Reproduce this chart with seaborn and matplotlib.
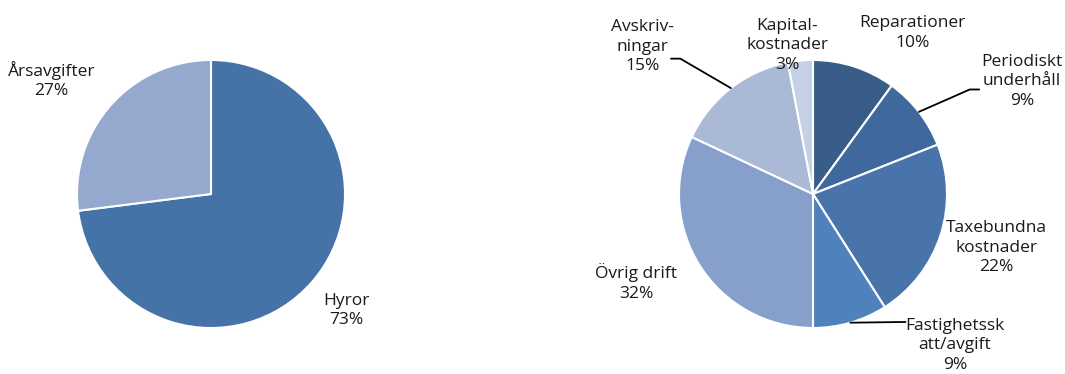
import numpy as np
import matplotlib
matplotlib.use("Agg")
import matplotlib.pyplot as plt
import seaborn as sns

sns.set_style("white")
plt.rcParams['font.family'] = ['Open Sans', 'DejaVu Sans']

# ---- data ----
left_labels = ["Hyror", "Årsavgifter"]
left_values = [73, 27]
left_colors = ["#4572A7", "#95A9CF"]

right_labels = ["Reparationer", "Periodiskt\nunderhåll", "Taxebundna\nkostnader",
                "Fastighetssk\natt/avgift", "Övrig drift", "Avskriv-\nningar",
                "Kapital-\nkostnader"]
right_values = [10, 9, 22, 9, 32, 15, 3]
right_colors = ["#375D88", "#3F699C", "#4874AB", "#4F81BD", "#87A0CB", "#AAB9D6", "#C5D0E4"]

# ---- layout (label positions in units of pie radius) ----
left_label_pos = [(1.01, -0.87), (-1.19, 0.85)]
right_label_pos = [(0.74, 1.20), (1.56, 0.84), (1.37, -0.40), (1.06, -1.13),
                   (-1.32, -0.66), (-1.27, 1.10), (-0.19, 1.11)]
right_leaders = {1: [(1.17, 0.78), (1.24, 0.78)],
                 3: [(0.69, -0.955)],
                 5: [(-0.99, 1.01), (-1.06, 1.01)]}

W, H = 1065, 374
fig = plt.figure(figsize=(W / 100, H / 100), dpi=100)
R = 134


def make_ax(cx, cy):
    ax = fig.add_axes([(cx - R) / W, (H - cy - R) / H, 2 * R / W, 2 * R / H])
    ax.axis('off')
    return ax


def draw(ax, values, labels, colors, pos, leaders):
    ax.pie(values, colors=colors, startangle=90, counterclock=False, radius=1,
           wedgeprops=dict(edgecolor='white', linewidth=1.5))
    ax.set_xlim(-1, 1)
    ax.set_ylim(-1, 1)
    ax.set_aspect('equal')
    total = sum(values)
    start = 90.0
    for i, (v, lab) in enumerate(zip(values, labels)):
        sweep = 360.0 * v / total
        mid = np.deg2rad(start - sweep / 2)
        start -= sweep
        x, y = pos[i]
        ax.text(x, y, f"{lab}\n{v}%", ha='center', va='center', fontsize=12.5,
                color='#1a1a1a', linespacing=1.3, clip_on=False)
        if i in leaders:
            pts = [(np.cos(mid), np.sin(mid))] + leaders[i]
            xs, ys = zip(*pts)
            ax.plot(xs, ys, color='black', lw=1.3, clip_on=False)


ax1 = make_ax(211, 194)
draw(ax1, left_values, left_labels, left_colors, left_label_pos, {})
ax2 = make_ax(813, 194)
draw(ax2, right_values, right_labels, right_colors, right_label_pos, right_leaders)

fig.savefig("out.png", dpi=100, facecolor='white')
